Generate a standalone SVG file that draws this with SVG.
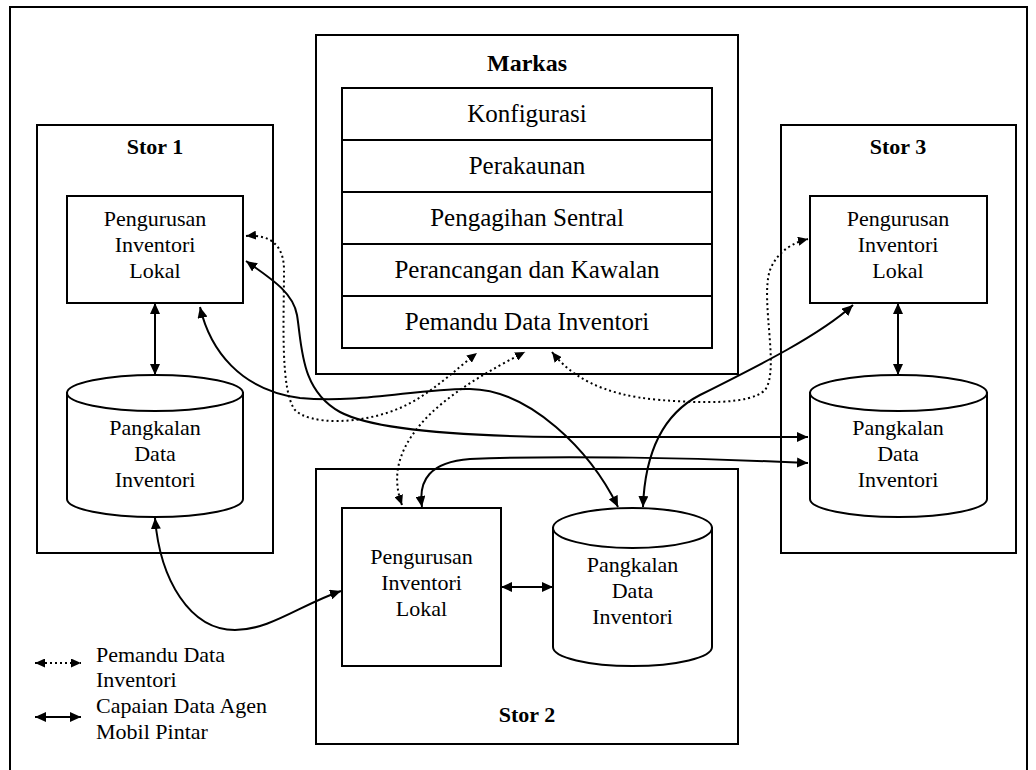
<svg xmlns="http://www.w3.org/2000/svg" width="1036" height="770" viewBox="0 0 1036 770">
  <style>
    .frame { fill: none; stroke: #000; stroke-width: 2; }
    .box { fill: #fff; stroke: #000; stroke-width: 2; }
    .txt { font-family: "Liberation Serif", "Times New Roman", serif; font-size: 22px; fill: #000; text-anchor: middle; }
    .row { font-family: "Liberation Serif", "Times New Roman", serif; font-size: 25px; fill: #000; text-anchor: middle; }
    .title { font-family: "Liberation Serif", "Times New Roman", serif; font-weight: bold; fill: #000; text-anchor: middle; }
    .leg { font-family: "Liberation Serif", "Times New Roman", serif; font-size: 22px; fill: #000; }
    .solid { fill: none; stroke: #000; stroke-width: 2; marker-start: url(#ah); marker-end: url(#ah); }
    .dot { fill: none; stroke: #000; stroke-width: 2; stroke-dasharray: 2 3; marker-start: url(#ahd); marker-end: url(#ahd); }
  </style>
  <defs>
    <marker id="ah" markerUnits="userSpaceOnUse" markerWidth="12" markerHeight="10" refX="11" refY="5" orient="auto-start-reverse">
      <path d="M0,0 L11,5 L0,10 z" fill="#000"/>
    </marker>
    <marker id="ahd" markerUnits="userSpaceOnUse" markerWidth="11" markerHeight="9" refX="10" refY="4.5" orient="auto-start-reverse">
      <path d="M0,0 L10,4.5 L0,9 z" fill="#000"/>
    </marker>
  </defs>

  <rect width="1036" height="770" fill="#fff"/>
  <!-- outer border -->
  <rect x="10" y="7" width="1017" height="800" class="frame"/>

  <!-- headquarters -->
  <g id="markas">
    <rect x="316" y="35" width="422" height="339" class="frame"/>
    <text x="527" y="71" class="title" font-size="24">Markas</text>
    <rect x="342" y="88" width="370" height="260" class="box"/>
    <line x1="342" y1="140" x2="712" y2="140" stroke="#000" stroke-width="2"/>
    <line x1="342" y1="192" x2="712" y2="192" stroke="#000" stroke-width="2"/>
    <line x1="342" y1="244" x2="712" y2="244" stroke="#000" stroke-width="2"/>
    <line x1="342" y1="296" x2="712" y2="296" stroke="#000" stroke-width="2"/>
    <text x="527" y="122" class="row">Konfigurasi</text>
    <text x="527" y="174" class="row">Perakaunan</text>
    <text x="527" y="226" class="row">Pengagihan Sentral</text>
    <text x="527" y="278" class="row">Perancangan dan Kawalan</text>
    <text x="527" y="330" class="row">Pemandu Data Inventori</text>
  </g>

  <!-- store 1 -->
  <g id="stor1">
    <rect x="37" y="125" width="236" height="428" class="frame"/>
    <text x="155" y="154" class="title" font-size="22">Stor 1</text>
  </g>
  <g id="stor1-pil">
    <rect x="67" y="196" width="176" height="107" class="box"/>
    <text class="txt"><tspan x="155" y="226">Pengurusan</tspan><tspan x="155" y="252">Inventori</tspan><tspan x="155" y="278">Lokal</tspan></text>
  </g>
  <g id="stor1-db">
    <path d="M67,393 L67,499 A88,18 0 0 0 243,499 L243,393 Z" class="box"/>
    <ellipse cx="155" cy="393" rx="88" ry="18" class="box"/>
    <text class="txt"><tspan x="155" y="435">Pangkalan</tspan><tspan x="155" y="461">Data</tspan><tspan x="155" y="487">Inventori</tspan></text>
  </g>

  <!-- store 3 -->
  <g id="stor3">
    <rect x="781" y="125" width="235" height="428" class="frame"/>
    <text x="898" y="154" class="title" font-size="22">Stor 3</text>
  </g>
  <g id="stor3-pil">
    <rect x="810" y="196" width="177" height="107" class="box"/>
    <text class="txt"><tspan x="898" y="226">Pengurusan</tspan><tspan x="898" y="252">Inventori</tspan><tspan x="898" y="278">Lokal</tspan></text>
  </g>
  <g id="stor3-db">
    <path d="M810,393 L810,499 A88.5,18 0 0 0 987,499 L987,393 Z" class="box"/>
    <ellipse cx="898.5" cy="393" rx="88.5" ry="18" class="box"/>
    <text class="txt"><tspan x="898" y="435">Pangkalan</tspan><tspan x="898" y="461">Data</tspan><tspan x="898" y="487">Inventori</tspan></text>
  </g>

  <!-- store 2 -->
  <g id="stor2">
    <rect x="316" y="469" width="422" height="275" class="frame"/>
    <text x="527" y="722" class="title" font-size="22">Stor 2</text>
  </g>
  <g id="stor2-pil">
    <rect x="342" y="508" width="159" height="158" class="box"/>
    <text class="txt"><tspan x="421.5" y="564">Pengurusan</tspan><tspan x="421.5" y="590">Inventori</tspan><tspan x="421.5" y="616">Lokal</tspan></text>
  </g>
  <g id="stor2-db">
    <path d="M553,528 L553,647 A79.5,19 0 0 0 712,647 L712,528 Z" class="box"/>
    <ellipse cx="632.5" cy="528" rx="79.5" ry="20" class="box"/>
    <text class="txt"><tspan x="632.5" y="572">Pangkalan</tspan><tspan x="632.5" y="598">Data</tspan><tspan x="632.5" y="624">Inventori</tspan></text>
  </g>

  <!-- connectors -->
  <g id="connectors">
    <!-- local links inside each store -->
    <path d="M155,303 L155,375" class="solid"/>
    <path d="M898,303 L898,375" class="solid"/>
    <path d="M501,587 L553,587" class="solid"/>

    <!-- agent data access -->
    <path d="M246,261 C270,278 293,292 297,315 C302,345 300,390 340,412 C370,428 450,436 560,437 L808,437" class="solid"/>
    <path d="M200,307 C210,350 240,390 300,398 C360,404 420,388 470,389 C530,390 590,450 618,507" class="solid"/>
    <path d="M422,507 C418,480 430,462 470,459 C560,455 700,458 808,463" class="solid"/>
    <path d="M853,305 C820,335 760,365 700,395 C665,413 645,450 643,507" class="solid"/>
    <path d="M155,518 C160,580 190,630 235,630 C270,630 300,605 341,591" class="solid"/>

    <!-- inventory data guide -->
    <path d="M246,236 C270,234 284,245 284,270 C284,320 280,390 295,410 C310,425 360,425 400,408 C430,395 455,370 477,353" class="dot"/>
    <path d="M402,505 C393,480 395,455 420,425 C445,395 490,370 525,352" class="dot"/>
    <path d="M552,352 C570,375 600,395 660,400 C700,403 750,405 765,390 C780,370 760,300 770,270 C778,250 795,242 808,239" class="dot"/>
  </g>

  <!-- legend -->
  <g id="legend">
    <path d="M35,663 L81,663" class="dot"/>
    <text class="leg"><tspan x="96" y="662">Pemandu Data</tspan><tspan x="96" y="687">Inventori</tspan></text>
    <path d="M35,717 L81,717" class="solid"/>
    <text class="leg"><tspan x="96" y="713">Capaian Data Agen</tspan><tspan x="96" y="739">Mobil Pintar</tspan></text>
  </g>
</svg>
